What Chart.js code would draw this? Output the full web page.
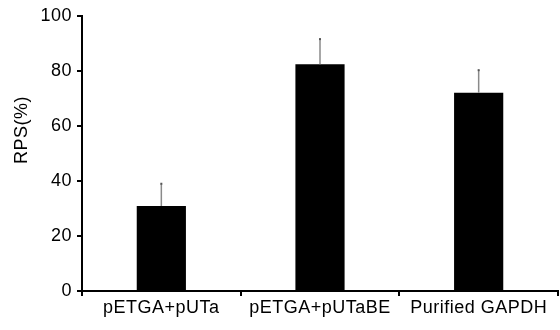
<!DOCTYPE html>
<html>
<head>
<meta charset="utf-8">
<script src="https://cdn.jsdelivr.net/npm/chart.js@4.4.0/dist/chart.umd.min.js"></script>
<style>
  html, body { margin: 0; padding: 0; background: #fff; }
  #wrap { width: 560px; height: 330px; position: relative; }
</style>
</head>
<body>
<div id="wrap"><canvas id="chart"></canvas></div>
<script>
// values
const categories = ['pETGA+pUTa', 'pETGA+pUTaBE', 'Purified GAPDH'];
const rps = [30.9, 82.5, 72.1];
const rpsErr = [8.1, 9.1, 8.2];
const yTicks = [0, 20, 40, 60, 80, 100];

const FONT = '"Liberation Sans", Arial, sans-serif';
const SPACING = '0.5px';

// slightly wider letters, like the original figure
const spacing = {
    id: 'spacing',
    beforeUpdate: function (chart) { chart.ctx.letterSpacing = SPACING; },
    beforeDraw: function (chart) { chart.ctx.letterSpacing = SPACING; }
};

// upper error whiskers
const errorBars = {
    id: 'errorBars',
    afterDatasetsDraw: function (chart) {
        let ctx = chart.ctx;
        let meta = chart.getDatasetMeta(0);
        let y = chart.scales.y;
        ctx.save();
        meta.data.forEach(function (bar, i) {
            let top = y.getPixelForValue(rps[i] + rpsErr[i]);
            ctx.strokeStyle = '#8a8a8a';
            ctx.lineWidth = 1.5;
            ctx.beginPath();
            ctx.moveTo(bar.x, bar.y);
            ctx.lineTo(bar.x, top);
            ctx.stroke();
            ctx.fillStyle = '#555';
            ctx.fillRect(bar.x - 1, top - 1, 2, 2);
        });
        ctx.restore();
    }
};

// y axis title, placed a bit above the middle as in the figure
const yTitle = {
    id: 'yTitle',
    afterDraw: function (chart) {
        let ctx = chart.ctx;
        ctx.save();
        ctx.letterSpacing = SPACING;
        ctx.translate(22, 130);
        ctx.rotate(-Math.PI / 2);
        ctx.font = '18px ' + FONT;
        ctx.fillStyle = '#000';
        ctx.textAlign = 'center';
        ctx.textBaseline = 'middle';
        ctx.fillText('RPS(%)', 0, 0);
        ctx.restore();
    }
};

new Chart(document.getElementById('chart'), {
    type: 'bar',
    data: {
        labels: categories,
        datasets: [{
            data: rps,
            backgroundColor: '#000',
            borderColor: '#000',
            borderWidth: 0,
            barPercentage: 0.31,
            categoryPercentage: 1
        }]
    },
    options: {
        responsive: true,
        maintainAspectRatio: false,
        animation: false,
        layout: { padding: { top: 16, right: 2, left: 0, bottom: 0 } },
        plugins: {
            legend: { display: false },
            tooltip: { enabled: false }
        },
        scales: {
            x: {
                offset: true,
                grid: {
                    display: true,
                    offset: true,
                    drawOnChartArea: false,
                    drawTicks: true,
                    tickLength: 5,
                    color: '#000',
                    lineWidth: 2
                },
                border: { display: true, color: '#000', width: 2 },
                ticks: {
                    color: '#000',
                    padding: 1,
                    maxRotation: 0,
                    autoSkip: false,
                    font: { family: FONT, size: 18 }
                },
                afterFit: function (scale) { scale.height = 39; }
            },
            y: {
                min: 0,
                max: 100,
                afterBuildTicks: function (scale) {
                    scale.ticks = yTicks.map(function (v) { return { value: v }; });
                },
                grid: {
                    display: true,
                    drawOnChartArea: false,
                    drawTicks: true,
                    tickLength: 5,
                    color: '#000',
                    lineWidth: 2
                },
                border: { display: true, color: '#000', width: 2 },
                ticks: {
                    color: '#000',
                    padding: 5,
                    font: { family: FONT, size: 18 }
                },
                afterFit: function (scale) { scale.width = 82; }
            }
        }
    },
    plugins: [spacing, errorBars, yTitle]
});
</script>
</body>
</html>
